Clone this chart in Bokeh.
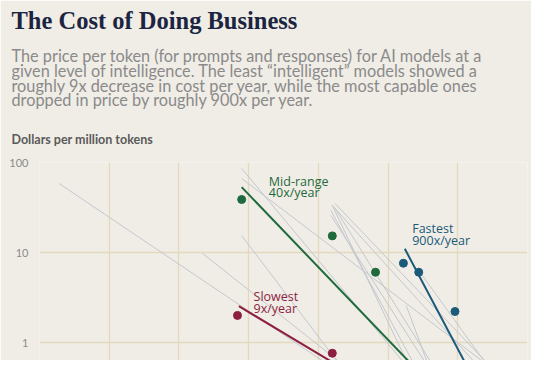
from bokeh.plotting import figure
from bokeh.models import Title, FixedTicker, ColumnDataSource
from bokeh.core.properties import value
from bokeh.embed import file_html
from bokeh.resources import INLINE

# ---- data (x in decimal years, y in dollars per million tokens) ----
gray_x0 = [2021.64, 2022.67, 2022.95, 2022.95, 2022.95, 2023.60, 2023.59, 2023.59,
           2023.62, 2023.60, 2023.62, 2024.23, 2024.13]
gray_y0 = [58.5, 9.75, 85.8, 66.4, 15.4, 33.3, 29.3, 25.8, 30.8, 33.3, 35.0, 6.0, 2.58]
gray_x1 = [2023.74, 2023.82, 2024.22, 2024.86, 2023.74, 2024.20, 2024.25, 2024.35,
           2024.39, 2024.74, 2024.83, 2024.79, 2024.33]
gray_y1 = [0.378, 0.378, 0.378, 0.378, 0.378, 0.378, 0.378, 0.378,
           0.378, 0.378, 0.378, 0.378, 0.378]

trend_names = ["Slowest", "Mid-range", "Fastest"]
trend_x0 = [2022.93, 2022.95, 2024.12]
trend_y0 = [2.53, 53.2, 11.0]
trend_x1 = [2023.82, 2024.28, 2024.62]
trend_y1 = [0.378, 0.378, 0.378]

green_dot_x = [2022.95, 2023.60, 2023.91, 2023.93]
green_dot_y = [38.8, 15.3, 6.04, 0.49]
red_dot_x = [2022.92, 2023.60, 2023.92]
red_dot_y = [2.0, 0.76, 0.49]
blue_dot_x = [2024.11, 2024.22, 2024.48]
blue_dot_y = [7.6, 6.04, 2.21]

label_line1 = ["Slowest", "Mid-range", "Fastest"]
label_line2 = ["9x/year", "40x/year", "900x/year"]
y_ticks = [1, 10, 100]

# ---- styling ----
BG = "#f0ede6"
GRID = "#e4d9bf"
GREEN = "#1f6a3c"
RED = "#8c1f41"
BLUE = "#1c5a7a"
GRAY = "#c3c7cf"
colors = [RED, GREEN, BLUE]

# annotation anchors (data coords)
lab_x = [2023.035, 2023.145, 2024.173]
lab_y1 = [3.24, 61.9, 18.6]
lab_y2 = [2.37, 46.1, 13.6]

p = figure(frame_width=488, frame_height=198, y_axis_type="log",
           x_range=(2021.5, 2025.0), y_range=(0.631, 100),
           output_backend="svg", toolbar_location=None,
           min_border_left=32, min_border_right=4, min_border_bottom=0,
           min_border_top=0)
p.background_fill_color = BG
p.border_fill_color = BG
p.outline_line_color = None

p.xaxis.visible = False
p.xgrid.ticker = FixedTicker(ticks=[2021.5 + 0.5 * i for i in range(8)])
p.xgrid.grid_line_color = GRID
p.xgrid.grid_line_width = 1.3
p.ygrid.ticker = FixedTicker(ticks=y_ticks)
p.ygrid.grid_line_color = GRID
p.ygrid.grid_line_width = 1.3

ya = p.yaxis[0]
ya.ticker = FixedTicker(ticks=y_ticks)
ya.major_label_overrides = {1: "1", 10: "10", 100: "100"}
ya.axis_line_color = None
ya.major_tick_line_color = None
ya.minor_tick_line_color = None
ya.major_tick_out = 0
ya.major_tick_in = 0
ya.minor_tick_out = 0
ya.minor_tick_in = 0
ya.major_label_standoff = 11
ya.major_label_text_font = "Lato"
ya.major_label_text_font_size = "11px"
ya.major_label_text_color = "#8a8a8a"
ya.axis_label = " "
ya.axis_label_text_font_size = "2.5px"
ya.axis_label_standoff = 0

# gray model lines
p.segment(x0=gray_x0, y0=gray_y0, x1=gray_x1, y1=gray_y1,
          line_color=GRAY, line_width=1)

# trend lines
p.segment(x0=trend_x0, y0=trend_y0, x1=trend_x1, y1=trend_y1,
          line_color=colors, line_width=2)

p.scatter(green_dot_x, green_dot_y, size=8, color=GREEN)
p.scatter(red_dot_x, red_dot_y, size=8, color=RED)
p.scatter(blue_dot_x, blue_dot_y, size=8, color=BLUE)

src = ColumnDataSource(dict(x=lab_x + lab_x, y=lab_y1 + lab_y2,
                            t=label_line1 + label_line2, c=colors + colors))
p.text(x="x", y="y", text="t", text_color="c", source=src,
       text_font=value("Open Sans"), text_font_size="12.5px",
       text_baseline="alphabetic", text_align="left")

# titles (added from nearest the plot outward)
p.add_layout(Title(text=" ", text_font_size="1px", standoff=0), "above")
p.add_layout(Title(text="Dollars per million tokens", text_font="Lato",
                   text_font_size="12.5px", text_font_style="bold",
                   text_color="#5a5a5a", offset=-28, standoff=26), "above")
p.add_layout(Title(text="The price per token (for prompts and responses) for AI models at a\n"
                        "given level of intelligence. The least \u201cintelligent\u201d models showed a\n"
                        "roughly 9x decrease in cost per year, while the most capable ones\n"
                        "dropped in price by roughly 900x per year.",
                   text_font="Lato", text_font_size="16.3px", text_font_style="normal",
                   text_color="#8a8a8a", text_line_height=0.775, offset=-28, standoff=14), "above")
p.add_layout(Title(text="The Cost of Doing Business", text_font="Liberation Serif",
                   text_font_size="24.5px", text_font_style="bold",
                   text_color="#1b2541", offset=-28, standoff=8), "above")

open("out.html", "w").write(file_html(p, INLINE))
